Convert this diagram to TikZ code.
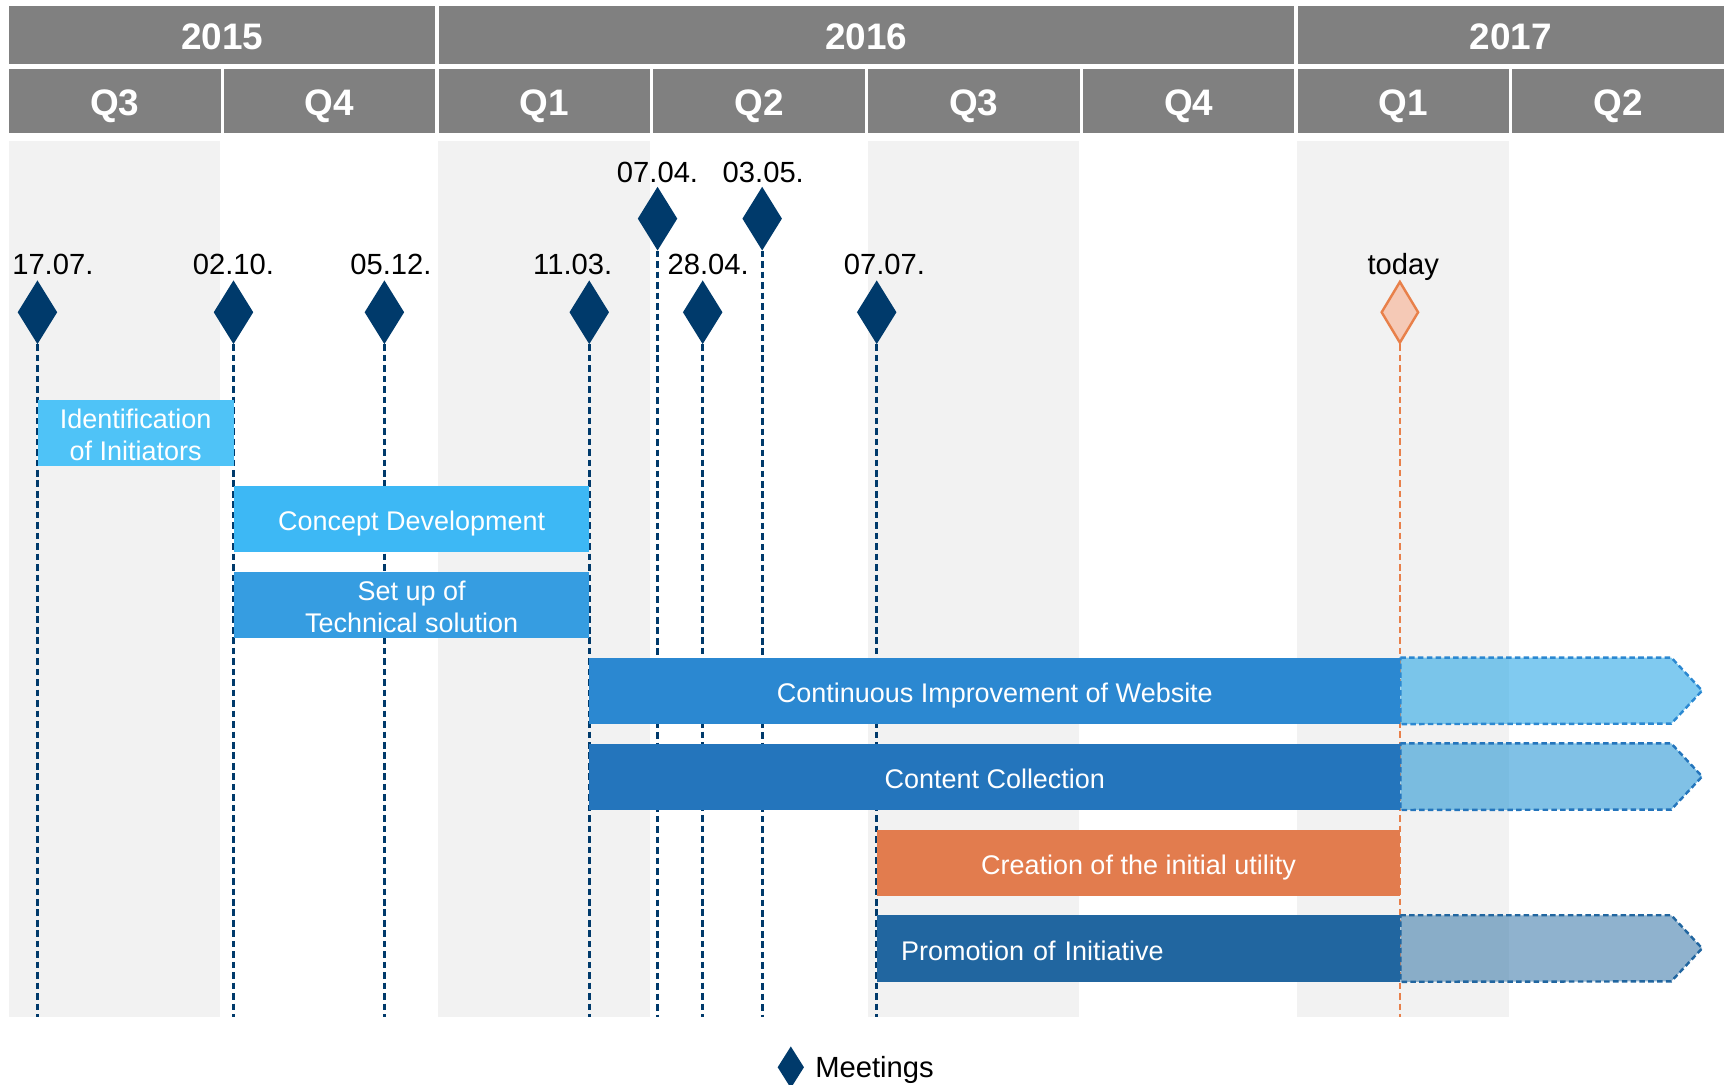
\documentclass[tikz,border=0pt]{standalone}
\usepackage{fontspec}
\setmainfont{Liberation Sans}
\usetikzlibrary{shapes.geometric}
\definecolor{hdrgray}{HTML}{808080}
\definecolor{bandc}{HTML}{F2F2F2}
\definecolor{navy}{HTML}{003A6B}
\definecolor{orline}{HTML}{E8804A}
\definecolor{todayfill}{HTML}{F5C9B6}
\definecolor{barA}{HTML}{4FC3F7}
\definecolor{barB}{HTML}{3DB8F5}
\definecolor{barC}{HTML}{369DE1}
\definecolor{barD}{HTML}{2B88D1}
\definecolor{barE}{HTML}{2475BC}
\definecolor{barF}{HTML}{E27C4E}
\definecolor{barG}{HTML}{2166A0}
\definecolor{contD}{HTML}{2BA7E6}
\definecolor{contE}{HTML}{2B98D5}
\definecolor{contG}{HTML}{447FAD}
\begin{document}
\begin{tikzpicture}[x=1pt,y=-1pt,
  hdr/.style={fill=hdrgray, text=white, inner sep=0pt, anchor=north west,
    text height=26pt, text depth=0pt,
    font=\fontsize{33.5pt}{40pt}\selectfont\bfseries},
  meet/.style={diamond, fill=navy, minimum width=36pt, minimum height=58pt, inner sep=0pt},
  meetline/.style={draw=navy, line width=2.5pt, dash pattern=on 6pt off 3.5pt},
  todayline/.style={draw=orline, line width=2.5pt, dash pattern=on 6pt off 3.5pt},
  datelbl/.style={anchor=base, inner sep=0pt, font=\fontsize{26.5pt}{32pt}\selectfont},
  bar/.style={anchor=north west, inner sep=0pt, minimum height=60pt, text=white, align=center,
    font=\fontsize{24.5pt}{29pt}\selectfont},
  oneline/.style={text height=23pt, text depth=1.5pt},
  twoline/.style={text height=50.5pt, text depth=0pt},
  cont/.style={line width=2.2pt, dash pattern=on 5pt off 3pt, fill opacity=0.6}
]
\useasboundingbox (0,0) rectangle (1568,985);

% alternating quarter bands
\foreach \i in {0,2,4,6} {
  \fill[bandc] ({8+195*\i},128) rectangle ++(192,795);
}

% header: years
\node[hdr, minimum width=387pt, minimum height=53pt] (y15) at (8,5) {2015};
\node[hdr, minimum width=777pt, minimum height=53pt] (y16) at (398,5) {2016};
\node[hdr, minimum width=387pt, minimum height=53pt] (y17) at (1178,5) {2017};

% header: quarters
\foreach \q [count=\i from 0] in {Q3,Q4,Q1,Q2,Q3,Q4,Q1,Q2} {
  \node[hdr, minimum width=192pt, minimum height=59pt] (q\i) at ({8+195*\i},62) {\q};
}

\coordinate (bot) at (0,923);

% meeting diamonds
\node[meet] (m1) at (34,283.5) {};
\node[meet] (m2) at (212,283.5) {};
\node[meet] (m3) at (349,283.5) {};
\node[meet] (m4) at (535,283.5) {};
\node[meet] (m5) at (597,198.5) {};
\node[meet] (m6) at (638,283.5) {};
\node[meet] (m7) at (692,198.5) {};
\node[meet] (m8) at (796,283.5) {};
\node[diamond, fill=todayfill, draw=orline, line width=2.2pt, minimum width=34pt,
  minimum height=56pt, inner sep=0pt] (td) at (1271,283.5) {};

% dashed drop lines
\foreach \m in {m1,m2,m3,m4,m5,m6,m7,m8} {
  \draw[meetline] (\m.south) -- (\m.south |- bot);
}
\draw[todayline] (td.south) -- (td.south |- bot);

% date labels
\node[datelbl] (l1) at (48,249) {17.07.};
\node[datelbl] (l2) at (212,249) {02.10.};
\node[datelbl] (l3) at (355,249) {05.12.};
\node[datelbl] (l4) at (520,249) {11.03.};
\node[datelbl] (l5) at (597,166) {07.04.};
\node[datelbl] (l6) at (643,249) {28.04.};
\node[datelbl] (l7) at (693,166) {03.05.};
\node[datelbl] (l8) at (803,249) {07.07.};
\node[datelbl] (lt) at (1274,249) {today};

% bars
\node[bar, twoline, fill=barA, minimum width=178pt] (b1) at (34,363) {Identification\\of Initiators};
\node[bar, oneline, fill=barB, minimum width=323pt] (b2) at (212,441) {Concept Development};
\node[bar, twoline, fill=barC, minimum width=323pt] (b3) at (212,519) {Set up of\\Technical solution};
\node[bar, oneline, fill=barD, minimum width=736pt] (b4) at (535,597) {Continuous Improvement of Website};
\node[bar, oneline, fill=barE, minimum width=736pt] (b5) at (535,675) {Content Collection};
\node[bar, oneline, fill=barF, minimum width=475pt] (b6) at (796,753) {Creation of the initial utility};
\node[bar, oneline, fill=barG, minimum width=475pt, text width=431pt, align=left, inner xsep=22pt]
  (b7) at (796,831) {Promotion of Initiative};

% continuations (planned)
\draw[cont, fill=contD, draw=barD] (b4.north east) -- ++(246,0) -- ++(28,30) -- ++(-28,30)
  -- (b4.south east) -- cycle;
\draw[cont, fill=contE, draw=barE] (b5.north east) -- ++(246,0) -- ++(28,30) -- ++(-28,30)
  -- (b5.south east) -- cycle;
\draw[cont, fill=contG, draw=barG] (b7.north east) -- ++(246,0) -- ++(28,30) -- ++(-28,30)
  -- (b7.south east) -- cycle;

% legend
\node[diamond, fill=navy, minimum width=24pt, minimum height=38pt, inner sep=0pt] (lgd) at (718,969) {};
\node[anchor=base west, inner sep=0pt, font=\fontsize{26.5pt}{32pt}\selectfont] (lgt) at (740,978) {Meetings};
\end{tikzpicture}
\end{document}
